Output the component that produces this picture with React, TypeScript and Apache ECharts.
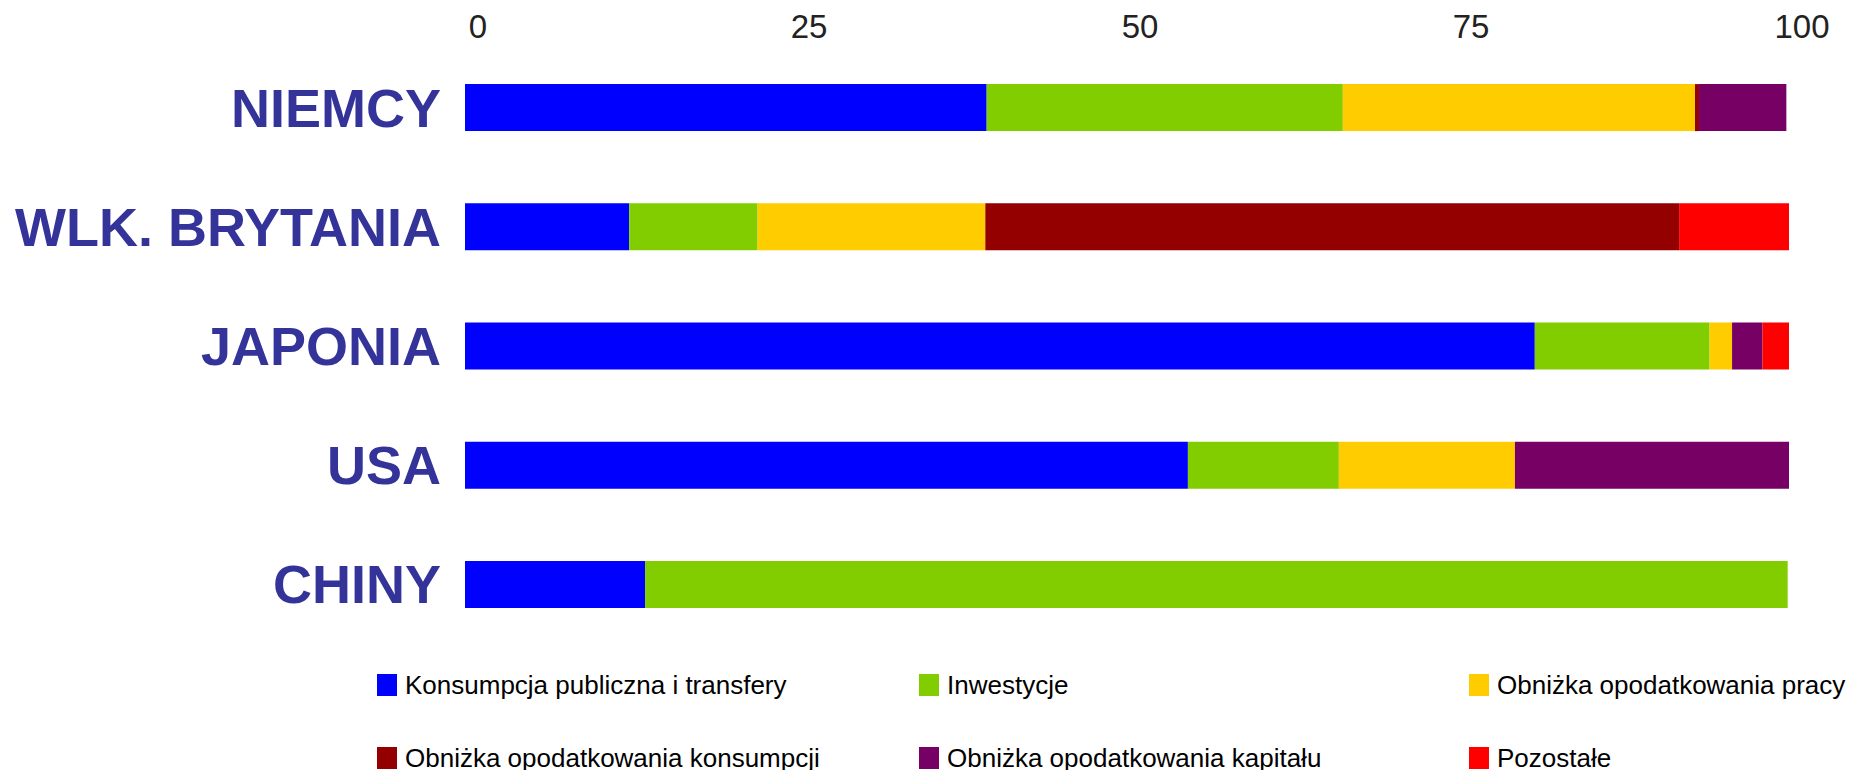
import React, { useEffect, useRef } from "react";
import * as echarts from "echarts";

const countries = ["NIEMCY", "WLK. BRYTANIA", "JAPONIA", "USA", "CHINY"];
const xTicks = [0, 25, 50, 75, 100];

const seriesNames = [
  "Konsumpcja publiczna i transfery",
  "Inwestycje",
  "Obniżka opodatkowania pracy",
  "Obniżka opodatkowania konsumpcji",
  "Obniżka opodatkowania kapitału",
  "Pozostałe",
];
const seriesColors = ["#0000FF", "#82CD00", "#FFCC00", "#940000", "#760063", "#FF0000"];

const konsumpcjaPubliczna = [39.4, 12.4, 80.8, 54.6, 13.6];
const inwestycje = [26.9, 9.7, 13.2, 11.4, 86.3];
const obnizkaPracy = [26.6, 17.2, 1.7, 13.3, 0];
const obnizkaKonsumpcji = [0.3, 52.4, 0, 0, 0];
const obnizkaKapitalu = [6.6, 0, 2.3, 20.7, 0];
const pozostale = [0, 8.6, 2.1, 0, 0];

const seriesValues = [
  konsumpcjaPubliczna,
  inwestycje,
  obnizkaPracy,
  obnizkaKonsumpcji,
  obnizkaKapitalu,
  pozostale,
];

// legend grid: 3 columns x 2 rows (column index, row index per series)
const legendCol = [0, 1, 2, 0, 1, 2];
const legendRow = [0, 0, 0, 1, 1, 1];
const legendLefts = [372, 914, 1464];
const legendTops = [667, 740];

export default function App() {
  const ref = useRef<HTMLDivElement>(null);
  useEffect(() => {
    if (!ref.current) return;
    const chart = echarts.init(ref.current, undefined, { renderer: "svg" });
    const font = "'Liberation Sans', Arial, sans-serif";
    chart.setOption({
      animation: false,
      backgroundColor: "#ffffff",
      textStyle: { fontFamily: font },
      grid: { left: 465, right: 67, top: 48, bottom: 126, containLabel: false },
      legend: seriesNames.map((name, i) => ({
        data: [name],
        orient: "horizontal",
        left: legendLefts[legendCol[i]],
        top: legendTops[legendRow[i]],
        icon: "rect",
        itemWidth: 20,
        itemHeight: 22,
        selectedMode: false,
        textStyle: {
          fontSize: 26,
          lineHeight: 26,
          color: "#000000",
          fontFamily: font,
          padding: [0, 0, 0, 3],
        },
      })),
      xAxis: {
        type: "value",
        position: "top",
        min: xTicks[0],
        max: xTicks[xTicks.length - 1],
        interval: 25,
        axisLine: { show: false },
        axisTick: { show: false },
        splitLine: { show: false },
        axisLabel: {
          fontSize: 33,
          color: "#222222",
          margin: 5,
          fontFamily: font,
          padding: [0, 0, 0, 26],
        },
      },
      yAxis: {
        type: "category",
        data: countries,
        inverse: true,
        axisLine: { show: false },
        axisTick: { show: false },
        splitLine: { show: false },
        axisLabel: {
          fontSize: 54,
          fontWeight: "bold",
          color: "#333399",
          margin: 24,
          fontFamily: font,
        },
      },
      series: seriesNames.map((name, i) => ({
        name,
        type: "bar",
        stack: "total",
        barWidth: 47,
        data: seriesValues[i],
        itemStyle: { color: seriesColors[i] },
        emphasis: { disabled: true },
      })),
    });
    return () => chart.dispose();
  }, []);
  return (
    <div
      ref={ref}
      style={{ position: "fixed", left: 0, top: 0, width: 1856, height: 770 }}
    />
  );
}
